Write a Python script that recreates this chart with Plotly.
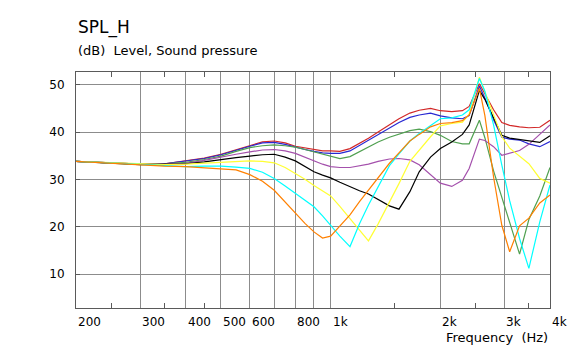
import math
import plotly.graph_objects as go

# ---- data ----
FREQ = [200, 250, 300, 350, 400, 450, 500, 550, 600, 650, 700, 750, 800, 850, 900, 950, 1000,
        1060, 1130, 1200, 1270, 1350, 1450, 1540, 1650, 1750, 1880, 2000, 2150, 2300, 2400,
        2560, 2650, 2800, 2950, 3100, 3300, 3500, 3750, 4000]

RED_DB = [33.8, 33.5, 33.2, 33.3, 33.9, 34.5, 35.3, 36.3, 37.1, 37.9, 38.1, 37.7, 37.0, 36.6, 36.2, 36.0, 36.0,
          35.9, 36.5, 37.6, 38.7, 40.0, 41.6, 42.8, 44.0, 44.6, 45.0, 44.5, 44.3, 44.5, 45.4,
          50.2, 48.1, 44.7, 42.0, 41.4, 41.1, 40.9, 41.0, 42.5]
BLUE_DB = [33.8, 33.5, 33.2, 33.3, 33.8, 34.4, 35.2, 36.2, 37.0, 37.7, 37.8, 37.4, 36.8, 36.3, 35.9, 35.6, 35.5,
           35.5, 36.0, 37.2, 38.3, 39.5, 40.9, 42.0, 43.1, 43.6, 44.0, 43.4, 43.0, 42.8, 43.5,
           49.7, 47.2, 42.6, 38.9, 38.5, 38.3, 37.5, 36.9, 38.0]
GREEN_DB = [33.8, 33.5, 33.2, 33.3, 33.6, 34.2, 34.9, 35.9, 36.7, 37.1, 37.3, 37.1, 36.8, 36.3, 35.8, 35.3, 34.8,
            34.4, 34.8, 35.8, 36.8, 37.9, 38.9, 39.6, 40.3, 40.6, 40.1, 39.3, 38.0, 37.5, 37.5,
            42.5, 38.8, 31.8, 26.3, 21.1, 14.2, 21.5, 26.5, 32.5]
PURPLE_DB = [33.8, 33.5, 33.2, 33.3, 33.4, 34.0, 34.6, 35.3, 35.8, 36.2, 36.3, 36.0, 35.5, 34.7, 33.9, 33.2, 32.7,
             32.5, 32.5, 32.8, 33.2, 33.8, 34.3, 34.4, 34.1, 33.1, 31.0, 29.2, 28.5, 29.8, 32.3,
             38.5, 38.2, 36.9, 35.1, 35.5, 36.1, 37.4, 39.5, 41.5]
BLACK_DB = [33.8, 33.5, 33.1, 33.2, 33.3, 33.7, 34.2, 34.6, 34.9, 35.2, 35.3, 34.7, 33.9, 32.8, 31.6, 30.9, 30.3,
            29.4, 28.4, 27.6, 26.9, 25.7, 24.4, 23.7, 27.4, 31.6, 34.7, 36.5, 37.9, 39.5, 41.5,
            48.8, 46.9, 43.0, 39.3, 38.7, 38.4, 38.1, 37.8, 39.2]
YELLOW_DB = [33.8, 33.5, 33.2, 33.1, 33.2, 33.4, 33.6, 33.8, 33.9, 33.8, 33.5, 32.5, 31.3, 30.0, 28.7, 27.6, 26.5,
             24.3, 21.8, 19.3, 17.0, 20.6, 25.1, 29.1, 33.8, 36.2, 39.0, 41.3, 41.8, 42.1, 43.8,
             51.6, 48.6, 43.4, 39.0, 36.6, 35.0, 33.3, 30.2, 29.2]
CYAN_DB = [33.8, 33.4, 33.1, 32.9, 32.7, 32.8, 32.8, 32.6, 32.3, 31.5, 30.2, 28.6, 27.0, 25.6, 24.2, 22.3, 20.3,
           18.0, 15.8, 20.6, 24.6, 28.5, 32.9, 35.4, 38.1, 39.7, 41.4, 42.8, 43.0, 43.6, 44.7,
           51.3, 48.6, 41.5, 33.0, 25.5, 17.5, 11.2, 21.0, 28.8]
ORANGE_DB = [33.8, 33.4, 33.0, 32.8, 32.7, 32.5, 32.3, 32.0, 31.0, 29.6, 27.7, 25.2, 22.8, 20.7, 18.9, 17.6, 18.0,
             20.2, 22.5, 25.3, 27.8, 30.4, 33.4, 35.6, 38.1, 39.5, 41.1, 41.8, 42.0, 42.4, 43.6,
             49.2, 43.5, 30.5, 20.3, 14.7, 20.2, 21.8, 25.0, 26.7]

SERIES = [RED_DB, BLUE_DB, GREEN_DB, PURPLE_DB, BLACK_DB, YELLOW_DB, CYAN_DB, ORANGE_DB]
COLORS = ["#d22828", "#2828d2", "#50a050", "#a450ac", "#000000", "#ffff33", "#00ffff", "#ff8000"]

GRID_X = [300, 400, 500, 600, 700, 800, 900, 1000, 2000, 3000]
MINOR_X = [250, 350, 450, 1500, 2500, 3500]
XTICK_VALS = [200, 300, 400, 500, 600, 800, 1000, 2000, 3000, 4000]
XTICK_TEXT = ["200", "300", "400", "500", "600", "800", "1k", "2k", "3k", "4k"]
YTICK_VALS = [10, 20, 30, 40, 50]

FRAME = "#5a5a5a"
GRID = "#8c8c8c"
FONT = "DejaVu Sans"

fig = go.Figure()
for vals, col in zip(SERIES, COLORS):
    fig.add_trace(go.Scatter(x=FREQ, y=vals, mode="lines",
                             line=dict(color=col, width=1.2), hoverinfo="skip"))

fig.update_layout(
    width=578, height=351,
    margin=dict(l=76, r=28, t=72, b=43),
    paper_bgcolor="white", plot_bgcolor="white",
    showlegend=False,
    font=dict(family=FONT, size=12, color="black"),
)
fig.update_xaxes(
    type="log", range=[math.log10(200), math.log10(4000)],
    tickmode="array", tickvals=GRID_X, showticklabels=False, ticks="",
    showgrid=True, gridcolor=GRID, gridwidth=1,
    showline=True, linecolor=FRAME, linewidth=1, mirror="ticks", zeroline=False,
    minor=dict(tickmode="array", tickvals=MINOR_X, ticks="inside", ticklen=5,
               tickcolor=FRAME, tickwidth=1, showgrid=False),
)
fig.update_yaxes(
    range=[2.82, 52.68],
    tickmode="array", tickvals=YTICK_VALS, ticks="inside", ticklen=4, tickcolor=FRAME,
    showgrid=True, gridcolor=GRID, gridwidth=1,
    showline=True, linecolor=FRAME, linewidth=1, mirror=True, zeroline=False,
    tickfont=dict(family=FONT, size=12, color="black"),
    ticklabelstandoff=8,
)

for v, t in zip(XTICK_VALS, XTICK_TEXT):
    fig.add_annotation(x=math.log10(v), xref="x", y=0, yref="paper",
                       xanchor="left", yanchor="top", yshift=-5,
                       text=t, showarrow=False,
                       font=dict(family=FONT, size=12, color="black"))

fig.add_annotation(x=1, xref="paper", y=0, yref="paper", xanchor="right", yanchor="middle",
                   yshift=-29, text="Frequency\u00a0\u00a0(Hz)", showarrow=False,
                   font=dict(family=FONT, size=13, color="black"))
fig.add_annotation(x=0, xref="paper", y=1, yref="paper", xanchor="left", yanchor="middle",
                   yshift=45, text="SPL_H", showarrow=False,
                   font=dict(family=FONT, size=17, color="black"))
fig.add_annotation(x=0, xref="paper", y=1, yref="paper", xanchor="left", yanchor="middle",
                   yshift=22, text="(dB)\u00a0\u00a0Level, Sound pressure", showarrow=False,
                   font=dict(family=FONT, size=13, color="black"))

fig.write_html("out.html")
